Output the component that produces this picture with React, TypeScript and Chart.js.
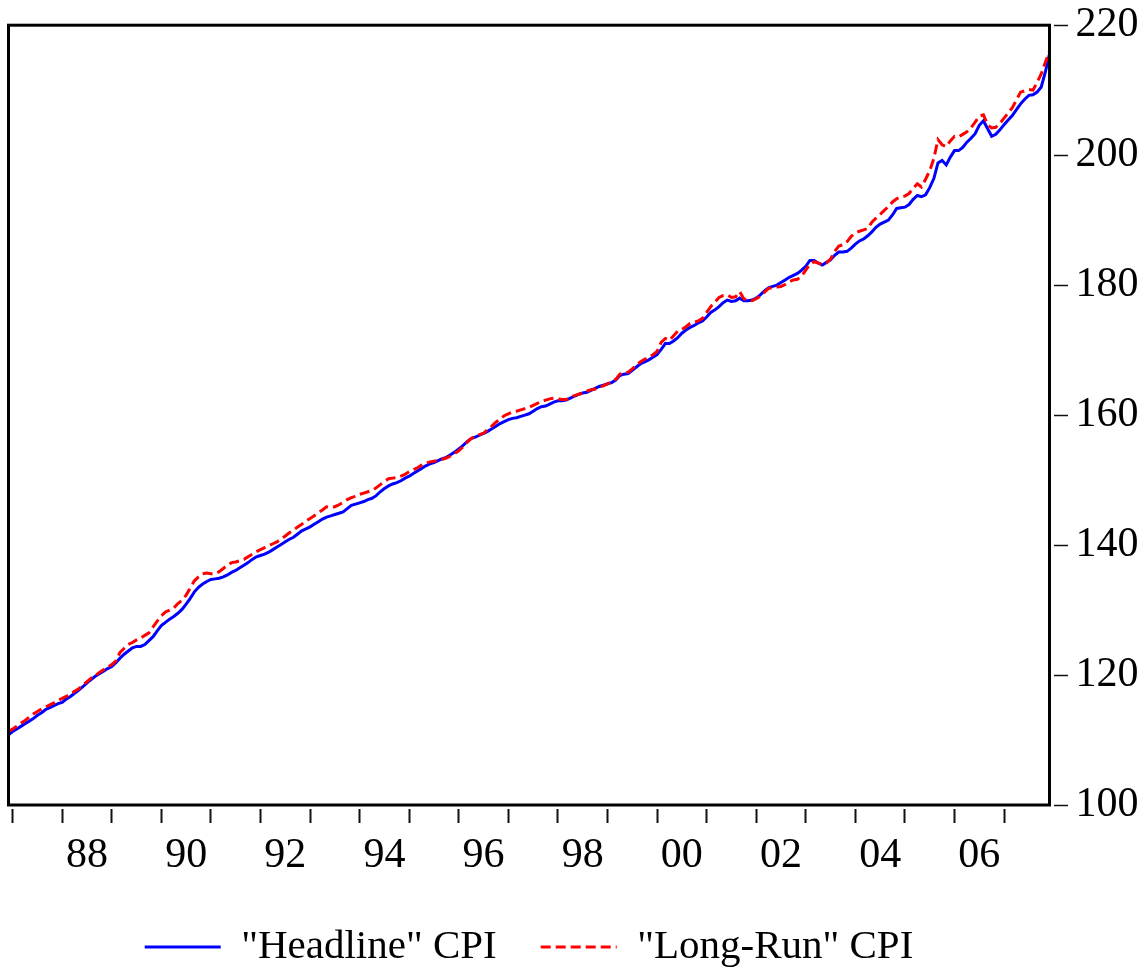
import React, { useEffect, useRef } from 'react';
import { Chart, registerables } from 'chart.js';

Chart.register(...registerables);

// ---- data (monthly, Dec 1986 .. Dec 2007) ----
const SERIES_START = 1986 + 11 / 12;
const X_MIN = 1986 + 11 / 12;
const X_MAX = 2007 + 11 / 12;

const TICK_YEARS = [1987, 1988, 1989, 1990, 1991, 1992, 1993, 1994, 1995, 1996, 1997,
  1998, 1999, 2000, 2001, 2002, 2003, 2004, 2005, 2006, 2007];
const LABEL_YEARS = [1988, 1990, 1992, 1994, 1996, 1998, 2000, 2002, 2004, 2006];
const Y_TICKS = [100, 120, 140, 160, 180, 200, 220];
const LEGEND_LABELS = ['"Headline" CPI', '"Long-Run" CPI'];

const HEADLINE_CPI = [
  110.8,
  111.3, 111.7, 112.1, 112.5, 112.9, 113.3, 113.8, 114.2, 114.7, 115.0, 115.3, 115.6,
  115.8, 116.3, 116.7, 117.2, 117.7, 118.2, 118.8, 119.3, 119.8, 120.2, 120.6, 121.0,
  121.3, 121.9, 122.6, 123.2, 123.7, 124.2, 124.4, 124.4, 124.7, 125.3, 125.9, 126.8,
  127.6, 128.1, 128.6, 129.0, 129.5, 130.1, 130.9, 131.8, 132.8, 133.5, 134.0, 134.4,
  134.7, 134.8, 134.9, 135.1, 135.4, 135.8, 136.1, 136.5, 136.9, 137.3, 137.8, 138.2,
  138.4, 138.6, 138.9, 139.3, 139.7, 140.1, 140.5, 140.9, 141.2, 141.7, 142.2, 142.5,
  142.8, 143.2, 143.6, 144.0, 144.3, 144.5, 144.7, 144.9, 145.1, 145.6, 146.1, 146.3,
  146.5, 146.7, 147.0, 147.2, 147.6, 148.2, 148.7, 149.1, 149.4, 149.6, 149.9, 150.3,
  150.6, 151.0, 151.4, 151.8, 152.2, 152.5, 152.7, 153.0, 153.3, 153.5, 153.9, 154.3,
  154.8, 155.3, 155.9, 156.4, 156.6, 156.9, 157.2, 157.5, 157.9, 158.3, 158.7, 159.0,
  159.3, 159.5, 159.6, 159.8, 160.0, 160.2, 160.6, 161.0, 161.3, 161.4, 161.7, 162.0,
  162.2, 162.2, 162.3, 162.6, 162.9, 163.2, 163.4, 163.5, 163.8, 164.1, 164.4, 164.6,
  164.8, 165.0, 165.4, 166.1, 166.3, 166.4, 166.9, 167.4, 167.9, 168.2, 168.5, 168.9,
  169.3, 170.1, 171.0, 171.0, 171.4, 171.9, 172.6, 173.1, 173.5, 173.8, 174.2, 174.5,
  175.1, 175.8, 176.2, 176.7, 177.3, 177.7, 177.5, 177.6, 178.0, 177.6, 177.6, 177.7,
  178.0, 178.5, 179.1, 179.6, 179.8, 180.0, 180.4, 180.8, 181.2, 181.5, 181.8, 182.3,
  182.9, 183.8, 183.8, 183.4, 183.1, 183.5, 183.9, 184.6, 185.1, 185.1, 185.2, 185.7,
  186.3, 186.8, 187.1, 187.6, 188.2, 188.9, 189.4, 189.7, 190.0, 190.8, 191.8, 191.9,
  192.0, 192.4, 193.2, 193.8, 193.6, 193.9, 195.0, 196.4, 198.8, 199.2, 198.5, 199.7,
  200.7, 200.7, 201.2, 202.0, 202.6, 203.3, 204.6, 205.3, 204.1, 202.9, 203.2, 203.9,
  204.7, 205.4, 206.1, 207.0, 207.9, 208.6, 209.2, 209.3, 209.7, 210.5, 212.8, 215.6,
];

const LONG_RUN_CPI = [
  111.3,
  111.7, 112.1, 112.6, 113.0, 113.5, 114.0, 114.4, 114.8, 115.1, 115.4, 115.7, 116.1,
  116.4, 116.7, 117.1, 117.5, 117.9, 118.4, 119.0, 119.5, 119.9, 120.4, 120.8, 121.2,
  121.6, 122.2, 123.5, 124.1, 124.7, 125.0, 125.4, 125.7, 126.1, 126.5, 127.4, 128.3,
  129.1, 129.7, 130.0, 130.3, 131.0, 131.5, 132.3, 133.4, 134.5, 135.1, 135.6, 135.7,
  135.6, 135.6, 135.9, 136.4, 136.9, 137.3, 137.4, 137.6, 137.8, 138.2, 138.6, 139.0,
  139.3, 139.6, 139.9, 140.2, 140.5, 140.9, 141.4, 141.9, 142.3, 142.8, 143.2, 143.7,
  144.1, 144.5, 145.0, 145.4, 145.9, 145.8, 145.9, 146.2, 146.6, 147.0, 147.3, 147.5,
  147.8, 148.0, 148.2, 148.4, 148.8, 149.3, 149.8, 150.2, 150.3, 150.4, 150.6, 150.9,
  151.3, 151.6, 151.9, 152.3, 152.6, 152.8, 152.9, 153.0, 153.2, 153.4, 153.7, 154.1,
  154.5, 155.1, 155.8, 156.4, 156.7, 157.0, 157.2, 157.8, 158.3, 158.9, 159.4, 159.9,
  160.2, 160.5, 160.6, 160.8, 161.0, 161.2, 161.5, 161.8, 162.1, 162.3, 162.5, 162.6,
  162.5, 162.4, 162.4, 162.7, 163.0, 163.2, 163.4, 163.7, 163.9, 164.0, 164.3, 164.5,
  164.8, 165.1, 165.5, 166.3, 166.5, 166.6, 167.1, 167.7, 168.2, 168.6, 168.9, 169.3,
  169.8, 171.2, 171.8, 171.5, 172.2, 172.9, 173.2, 173.6, 174.1, 174.3, 174.5, 174.9,
  175.8, 176.7, 177.4, 178.1, 178.4, 178.5, 178.1, 178.2, 179.0, 177.9, 177.7, 177.6,
  177.9, 178.3, 178.9, 179.5, 179.6, 179.7, 179.8, 180.1, 180.5, 180.8, 180.9, 181.4,
  182.3, 183.2, 183.6, 183.4, 183.2, 183.4, 184.0, 185.2, 186.0, 186.2, 186.7, 187.5,
  188.0, 188.3, 188.5, 188.7, 189.7, 190.3, 190.9, 191.5, 192.1, 192.8, 193.3, 193.6,
  193.7, 194.1, 194.9, 195.6, 195.1, 196.3, 197.6, 199.5, 202.4, 201.6, 201.3, 202.2,
  202.9, 202.8, 203.2, 203.6, 204.2, 205.1, 206.0, 206.2, 204.7, 204.2, 204.3, 204.9,
  205.7, 206.5, 207.3, 208.5, 209.7, 209.9, 210.1, 210.0, 211.2, 212.5, 214.3, 216.0,
];

const FONT_FAMILY = "'Liberation Serif', 'Times New Roman', serif";
const AXIS_FONT_SIZE = 42;
const LEGEND_FONT_SIZE = 41;

const toPoints = (values: number[]) =>
  values.map((v, i) => ({ x: SERIES_START + i / 12, y: v }));

const framePlugin = {
  id: 'plotFrame',
  afterDraw(chart: any) {
    const { ctx, chartArea: a } = chart;
    ctx.save();
    ctx.strokeStyle = '#000000';
    ctx.lineWidth = 3;
    ctx.setLineDash([]);
    ctx.strokeRect(a.left, a.top, a.right - a.left, a.bottom - a.top);
    ctx.restore();
  },
};

export default function App() {
  const canvasRef = useRef<HTMLCanvasElement | null>(null);

  useEffect(() => {
    const canvas = canvasRef.current;
    if (!canvas) return;
    const axisFont = { family: FONT_FAMILY, size: AXIS_FONT_SIZE };
    const legendFont = { family: FONT_FAMILY, size: LEGEND_FONT_SIZE };
    const defaultLabels = (Chart as any).defaults.plugins.legend.labels.generateLabels;
    const chart = new Chart(canvas, {
      type: 'line',
      data: {
        datasets: [
          {
            label: LEGEND_LABELS[0],
            data: toPoints(HEADLINE_CPI),
            borderColor: '#0000ff',
            backgroundColor: '#0000ff',
            borderWidth: 3,
            pointRadius: 0,
            fill: false,
            tension: 0,
            order: 1,
          },
          {
            label: LEGEND_LABELS[1],
            data: toPoints(LONG_RUN_CPI),
            borderColor: '#ff0000',
            backgroundColor: '#ff0000',
            borderWidth: 3,
            borderDash: [10, 5],
            pointRadius: 0,
            fill: false,
            tension: 0,
            order: 0,
          },
        ],
      },
      options: {
        animation: false,
        responsive: false,
        events: [],
        layout: { padding: { left: 8.5, top: 24.5, right: 0, bottom: 4.5 } },
        plugins: {
          tooltip: { enabled: false },
          legend: {
            position: 'bottom',
            fullSize: false,
            maxHeight: 92,
            labels: {
              usePointStyle: true,
              pointStyle: 'line',
              pointStyleWidth: 76,
              padding: 44,
              color: '#000000',
              font: legendFont,
              sort: (a: any, b: any) => a.datasetIndex - b.datasetIndex,
              generateLabels: (c: any) => {
                const items = defaultLabels(c);
                items.forEach((it: any) => {
                  const ds = c.data.datasets[it.datasetIndex];
                  it.lineDash = ds.borderDash || [];
                  it.lineWidth = ds.borderWidth;
                  it.strokeStyle = ds.borderColor;
                  it.pointStyle = 'line';
                });
                return items;
              },
            },
          },
        },
        scales: {
          x: {
            type: 'linear',
            position: 'bottom',
            min: X_MIN,
            max: X_MAX,
            afterBuildTicks: (s: any) => {
              s.ticks = TICK_YEARS.map((v) => ({ value: v }));
            },
            afterFit: (s: any) => {
              s.height = 77.5;
            },
            ticks: {
              autoSkip: false,
              maxRotation: 0,
              minRotation: 0,
              padding: 8,
              labelOffset: 24.8,
              color: '#000000',
              font: axisFont,
              callback: (v: any) =>
                LABEL_YEARS.includes(Number(v)) ? String(Number(v) % 100).padStart(2, '0') : '',
            },
            grid: {
              drawOnChartArea: false,
              drawTicks: true,
              tickLength: 18,
              tickWidth: 2,
              tickColor: '#111111',
              tickBorderDash: [14, 4],
              tickBorderDashOffset: 14,
            },
            border: { display: false },
          },
          y: {
            type: 'linear',
            position: 'right',
            min: 100,
            max: 220,
            afterBuildTicks: (s: any) => {
              s.ticks = Y_TICKS.map((v) => ({ value: v }));
            },
            afterFit: (s: any) => {
              s.width = 96.5;
            },
            ticks: {
              padding: 0,
              color: '#000000',
              font: axisFont,
              callback: (v: any) => String(v),
            },
            grid: {
              drawOnChartArea: false,
              drawTicks: true,
              tickLength: 26,
              tickWidth: 1.5,
              tickColor: '#111111',
              tickBorderDash: [14, 20],
              tickBorderDashOffset: 30,
            },
            border: { display: false },
          },
        },
      },
      plugins: [framePlugin],
    } as any);
    return () => chart.destroy();
  }, []);

  return (
    <div style={{ position: 'absolute', left: 0, top: 0, width: 1146, height: 979, background: '#ffffff' }}>
      <canvas ref={canvasRef} width={1146} height={979} style={{ display: 'block' }} />
    </div>
  );
}
